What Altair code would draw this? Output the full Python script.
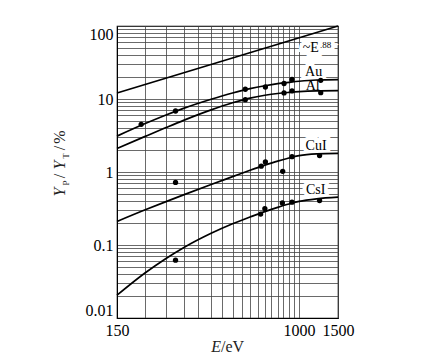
import altair as alt
import pandas as pd

# ---- data ----
curve_E = [150, 200, 250, 300, 400, 500, 600, 700, 800, 900, 1000, 1200, 1500]
au_curve = [3.1, 4.57, 6.04, 7.45, 9.93, 12.1, 13.9, 15.2, 16.2, 16.9, 17.5, 18.2, 18.4]
al_curve = [2.1, 3.05, 4.06, 5.1, 7.1, 8.87, 10.3, 11.25, 11.9, 12.3, 12.6, 12.9, 13.0]
cui_curve = [0.21, 0.301, 0.393, 0.486, 0.675, 0.863, 1.055, 1.24, 1.41, 1.556, 1.675, 1.77, 1.80]
csi_curve = [0.0205, 0.041, 0.0655, 0.092, 0.145, 0.196, 0.242, 0.287, 0.328, 0.365, 0.395, 0.429, 0.453]
power_E = [150, 1500]
power_Y = [12.1, 100]

au_pts_E = [193, 276, 571, 704, 855, 929, 1253]
au_pts_Y = [4.5, 6.85, 13.6, 14.6, 16.3, 18.5, 18.0]
al_pts_E = [571, 855, 929, 1253]
al_pts_Y = [9.8, 12.1, 12.9, 12.2]
cui_pts_E = [276, 674, 704, 843, 929, 1238]
cui_pts_Y = [0.72, 1.2, 1.37, 1.02, 1.62, 1.68]
csi_pts_E = [276, 670, 700, 840, 929, 1238]
csi_pts_Y = [0.062, 0.265, 0.315, 0.376, 0.386, 0.406]

label_text = ["~E", "Au", "Al", "CuI", "CsI"]
label_E = [1130, 1164, 1152, 1194, 1188]
label_Y = [50.3, 23.2, 14.9, 2.25, 0.56]
sup_text = [".88"]
sup_E = [1320]
sup_Y = [54.5]

x_ticks = [150, 200, 250, 300, 350, 400, 450, 500, 550, 600, 650, 700, 750,
           800, 850, 900, 950, 1000, 1500]
x_labeled = [150, 1000, 1500]
y_ticks = [0.01, 0.02, 0.03, 0.04, 0.05, 0.06, 0.07, 0.08, 0.09,
           0.1, 0.2, 0.3, 0.4, 0.5, 0.6, 0.7, 0.8, 0.9,
           1, 2, 3, 4, 5, 6, 7, 8, 9,
           10, 20, 30, 40, 50, 60, 70, 80, 90, 100]
y_labeled = [0.01, 0.1, 1, 10, 100]

# ---- tables ----
rows = []
for name, ys in [("Au", au_curve), ("Al", al_curve), ("CuI", cui_curve), ("CsI", csi_curve)]:
    for e, y in zip(curve_E, ys):
        rows.append({"E": e, "Y": y, "series": name})
for e, y in zip(power_E, power_Y):
    rows.append({"E": e, "Y": y, "series": "power"})
curves = pd.DataFrame(rows)

prow = []
for name, es, ys in [("Au", au_pts_E, au_pts_Y), ("Al", al_pts_E, al_pts_Y),
                     ("CuI", cui_pts_E, cui_pts_Y), ("CsI", csi_pts_E, csi_pts_Y)]:
    for e, y in zip(es, ys):
        prow.append({"E": e, "Y": y, "series": name})
points = pd.DataFrame(prow)

labels = pd.DataFrame({"E": label_E, "Y": label_Y, "t": label_text})
sup = pd.DataFrame({"E": sup_E, "Y": sup_Y, "t": sup_text})

FONT = "Liberation Serif"

x_expr = "indexof(" + str(x_labeled) + ", datum.value) >= 0 ? datum.label : ''"
y_expr = "indexof(" + str(y_labeled) + ", datum.value) >= 0 ? datum.label : ''"

x_enc = alt.X("E:Q", title=None,
              scale=alt.Scale(type="log", domain=[150, 1500], nice=False),
              axis=alt.Axis(values=x_ticks, labelExpr=x_expr, format="d",
                            grid=True, tickSize=0, labelFontSize=16, labelFont=FONT,
                            labelColor="black", domainColor="black",
                            gridColor="#444", gridWidth=0.8, labelFlush=False,
                            labelOverlap=False, labelPadding=4))
y_enc = alt.Y("Y:Q", title=None,
              scale=alt.Scale(type="log", domain=[0.01, 100], nice=False),
              axis=alt.Axis(values=y_ticks, labelExpr=y_expr, format="~g",
                            grid=True, tickSize=0, labelFontSize=16, labelFont=FONT,
                            labelColor="black", domainColor="black",
                            gridColor="#444", gridWidth=0.8, labelFlush=True,
                            labelOverlap=False, labelPadding=4))

halo = alt.Chart(labels).mark_text(font=FONT, fontSize=14, align="center", baseline="middle",
                                   stroke="white", strokeWidth=8, fill="white").encode(
    x=x_enc, y=y_enc, text="t:N")
halo_sup = alt.Chart(sup).mark_text(font=FONT, fontSize=9, align="center", baseline="middle",
                                    stroke="white", strokeWidth=8, fill="white").encode(
    x=x_enc, y=y_enc, text="t:N")

lines = alt.Chart(curves).mark_line(color="black", strokeWidth=1.7, interpolate="monotone").encode(
    x=x_enc, y=y_enc, detail="series:N")

dots = alt.Chart(points).mark_circle(size=28, color="black", opacity=1).encode(x=x_enc, y=y_enc)

txt = alt.Chart(labels).mark_text(font=FONT, fontSize=14, align="center", baseline="middle",
                                  fill="black").encode(x=x_enc, y=y_enc, text="t:N")
txt_sup = alt.Chart(sup).mark_text(font=FONT, fontSize=9, align="center", baseline="middle",
                                   fill="black").encode(x=x_enc, y=y_enc, text="t:N")


def piece(s, px, py, size=16, italic=False, angle=0, align="center"):
    kw = dict(font=FONT, fontSize=size, align=align, baseline="middle", fill="#222")
    if italic:
        kw["fontStyle"] = "italic"
    if angle:
        kw["angle"] = angle
    return alt.Chart(pd.DataFrame({"t": [s]})).mark_text(**kw).encode(
        text="t:N", x=alt.value(px), y=alt.value(py))


title_parts = [
    piece("Y", -57, 166, italic=True, angle=270),
    piece("P", -51, 157, size=9, angle=270),
    piece("/", -57, 150, angle=270),
    piece("Y", -57, 139, italic=True, angle=270),
    piece("T", -51, 130, size=9, angle=270),
    piece("/", -57, 122, angle=270),
    piece("%", -57, 111, angle=270),
    piece("E", 104, 321, italic=True, align="right"),
    piece("/eV", 104, 321, align="left"),
]

chart = alt.layer(halo, halo_sup, lines, dots, txt, txt_sup, *title_parts).properties(
    width=221, height=292,
    padding={"left": 117, "top": 26, "right": 105, "bottom": 37},
    autosize="none",
).configure_view(stroke="black", strokeWidth=1.2)

chart.save("out.html", embed_options={"renderer": "svg", "actions": False})
